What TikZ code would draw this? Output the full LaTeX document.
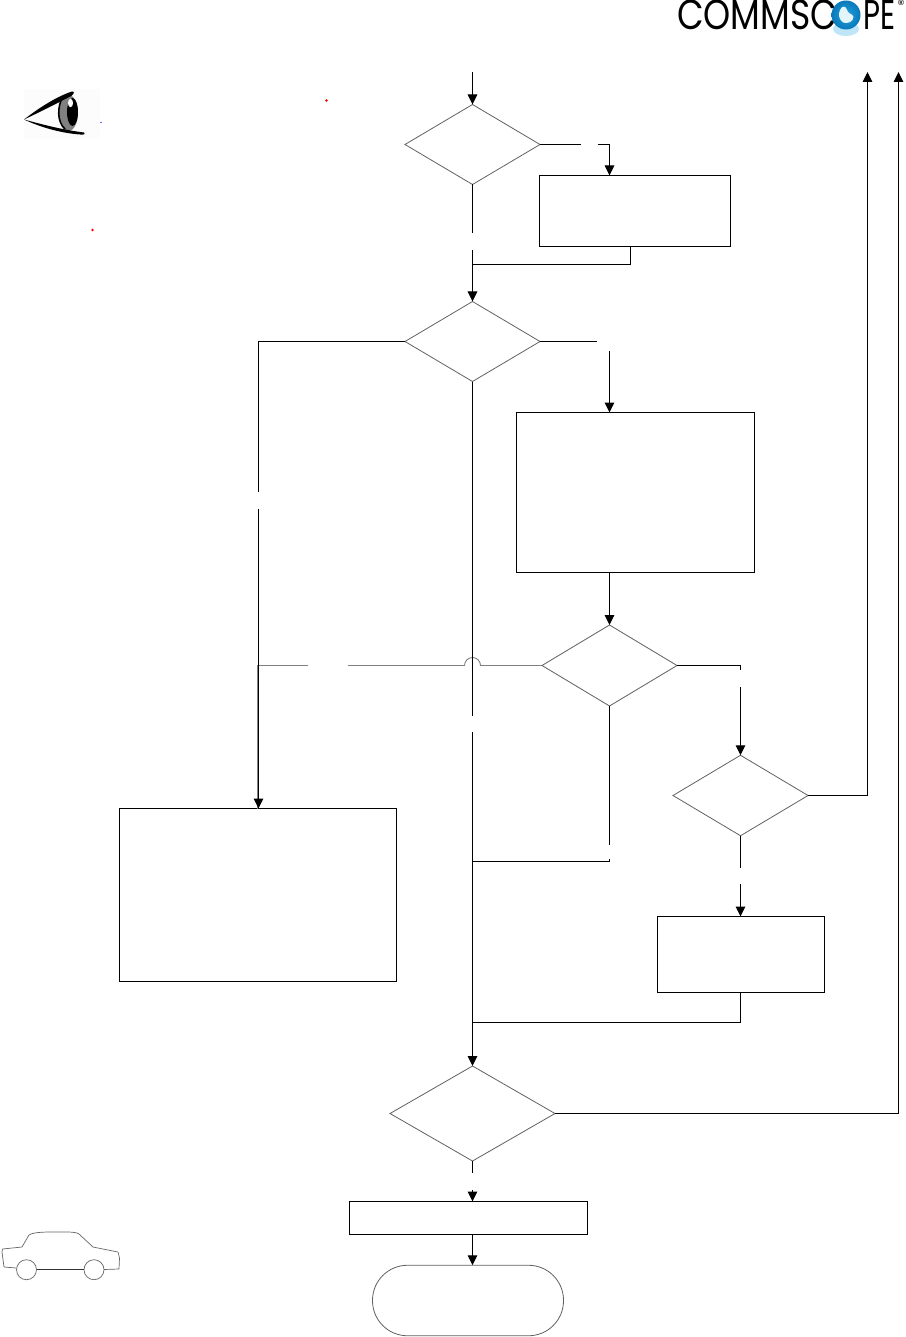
\documentclass[tikz,border=0pt]{standalone}
\usepackage{fontspec}
\usepackage{graphicx}
\setmainfont{Liberation Sans}
\newfontfamily\logofont{Poppins}
\usetikzlibrary{arrows.meta,shapes.geometric,calc}
\definecolor{ballblue}{HTML}{1FA3DC}
\definecolor{balldeep}{HTML}{0A78BA}
\definecolor{ballglow}{HTML}{BFE6F8}
\definecolor{ballswirl}{HTML}{E4F4FB}
\tikzset{
  conn/.style={line width=1pt,black},
  arr/.style={conn,-{Triangle[length=10pt,width=9.5pt]}},
  dmdnode/.style={shape=diamond,draw=black!62,line width=0.8pt,inner sep=0,outer sep=0,aspect=1.69},
  pbox/.style={shape=rectangle,draw=black,line width=1pt,inner sep=0,outer sep=0},
  termbox/.style={shape=rectangle,rounded corners=35pt,draw=black!62,line width=0.8pt,inner sep=0,outer sep=0},
  graylink/.style={line width=0.9pt,black!50},
  sketch/.style={line width=0.7pt,black!60,line join=round},
  ldot/.style={inner sep=0,minimum size=2.6pt,circle,fill=red},
}
\begin{document}
\begin{tikzpicture}[x=1pt,y=-1pt]
\useasboundingbox (0,0) rectangle (905,1337);
\fill[white] (0,0) rectangle (905,1337);
% decisions
\node[dmdnode,minimum width=135pt,minimum height=80pt] (da) at (472.5,144.5) {};
\node[dmdnode,minimum width=135pt,minimum height=80pt] (db) at (472.5,341.5) {};
\node[dmdnode,minimum width=135pt,minimum height=81pt] (dc) at (609.5,665.5) {};
\node[dmdnode,minimum width=135pt,minimum height=80.5pt] (dd) at (740.5,795.5) {};
\node[dmdnode,minimum width=165pt,minimum height=95pt] (de) at (472.5,1113.5) {};
% boxes
\node[pbox,minimum width=191pt,minimum height=71pt] (ba) at (635,211) {};
\node[pbox,minimum width=238pt,minimum height=160pt] (bb) at (635.5,492.5) {};
\node[pbox,minimum width=167pt,minimum height=76pt] (bc) at (741,954.5) {};
\node[pbox,minimum width=277pt,minimum height=173pt] (bd) at (258,895) {};
\node[pbox,minimum width=238pt,minimum height=33pt] (be) at (468.5,1218) {};
\node[termbox,minimum width=191pt,minimum height=70.5pt] (tm) at (468,1300.5) {};
% connectors
\coordinate (start) at (472.5,72);
\draw[arr] (start) -- (da.north);
\coordinate (a1) at (581,144.5); \coordinate (a2) at (598,144.5); \coordinate (a3) at (609.5,144.5);
\draw[conn] (da.east) -- (a1);
\draw[arr] (a2) -- (a3) -- (a3 |- ba.north);
\coordinate (a5) at (472.5,233.5); \coordinate (a6) at (472.5,250);
\draw[conn] (da.south) -- (a5);
\draw[arr] (a6) -- (db.north);
\coordinate (a7) at (630.5,246.5); \coordinate (a8) at (630.5,264.5); \coordinate (a9) at (472.5,264.5);
\draw[conn] (a7) -- (a8) -- (a9);
\coordinate (b1) at (597,341.5); \coordinate (b2) at (609.5,351);
\draw[conn] (db.east) -- (b1);
\draw[arr] (b2) -- (b2 |- bb.north);
\coordinate (l1) at (258.5,341.5); \coordinate (l2) at (258.5,492); \coordinate (l3) at (258.5,509);
\coordinate (m1) at (472.5,716); \coordinate (m2) at (472.5,732);
\coordinate (g2) at (480.5,665.5); \coordinate (g3) at (348,665.5); \coordinate (g4) at (308,665.5); \coordinate (g5) at (257.3,665.5);
\draw[graylink] (dc.west) -- (g2) arc[start angle=0,end angle=180,radius=8,y radius=-8] -- (g3);
\draw[graylink] (g4) -- (g5) -- (g5 |- bd.north);
\draw[conn] (db.west) -- (l1) -- (l2);
\draw[arr] (l3) -- (l3 |- bd.north);
\draw[conn] (db.south) -- (m1);
\draw[arr] (m2) -- (de.north);
\draw[arr] (bb.south -| dc.north) -- (dc.north);
\coordinate (c1) at (740.5,665.5); \coordinate (c2) at (740.5,669.5); \coordinate (c3) at (740.5,687);
\draw[conn] (dc.east) -- (c1) -- (c2);
\draw[arr] (c3) -- (dd.north);
\coordinate (c4) at (609.5,844.5); \coordinate (c5) at (609.5,859); \coordinate (c6) at (609.5,861.5); \coordinate (c7) at (472.5,861.5);
\draw[conn] (dc.south) -- (c4);
\draw[conn] (c5) -- (c6) -- (c7);
\coordinate (r1) at (867.5,795.5); \coordinate (r2) at (867.5,72);
\draw[arr] (dd.east) -- (r1) -- (r2);
\coordinate (r3) at (898.5,1113.5); \coordinate (r4) at (898.5,72);
\draw[arr] (de.east) -- (r3) -- (r4);
\coordinate (d1) at (740.5,867.5); \coordinate (d2) at (740.5,884);
\draw[conn] (dd.south) -- (d1);
\draw[arr] (d2) -- (d2 |- bc.north);
\coordinate (d4) at (740.5,1022.5); \coordinate (d6) at (472.5,1022.5);
\draw[conn] (d4 |- bc.south) -- (d4) -- (d6);
\coordinate (e1) at (472.5,1173); \coordinate (e2) at (472.5,1189.5);
\draw[conn] (de.south) -- (e1);
\draw[arr] (e2) -- (e2 |- be.north);
\coordinate (e4) at (472.5,1234.5);
\draw[arr] (e4) -- (e4 |- tm.north);
% dots
\node[ldot] (rd1) at (326.5,100.5) {};
\node[ldot] (rd2) at (92.5,230) {};
\node[inner sep=0,minimum size=1.2pt,fill=blue!60] (bd1) at (101,122.5) {};
% eye
\fill[black!1] (24,89) rectangle (100,139);
\fill[black!50] (68.5,113) ellipse[x radius=9.5,y radius=18];
\draw[black,line width=1.6pt] (63,96) .. controls (57,107) and (57,122) .. (65,129);
\fill[black] (72.5,112) ellipse[x radius=5.5,y radius=14];
\fill[white] (70.5,103) ellipse[x radius=2.5,y radius=4.2];
\fill[black] (24,119.5) .. controls (40,107) and (58,96) .. (72,91.5) .. controls (75,91.5) and (74,94) .. (72,95.5) .. controls (58,103) and (40,112) .. (24,119.5) -- cycle;
\fill[black] (24,119.5) .. controls (44,125) and (64,130) .. (84,132.5) .. controls (86,133.5) and (85,135) .. (80,134.5) .. controls (60,133) and (40,127) .. (24,119.5) -- cycle;
% car
\draw[sketch] (16,1268) -- (4,1267) -- (2,1252) -- (2.5,1249) -- (22,1247) -- (29,1235) .. controls (31,1233) and (40,1232) .. (50,1232) -- (68,1232) .. controls (74,1232) and (78,1233) .. (79,1234) -- (93,1247) -- (118,1252) -- (119.5,1258) -- (119,1269) -- (104,1269.5);
\draw[sketch] (26.5,1269.7) circle[radius=10];
\draw[sketch] (94,1269.7) circle[radius=10];
\draw[sketch,black!80] (36.5,1269.5) -- (84,1269.5);
% logo
\node[inner sep=0,anchor=north west] (lg1) at (677,0) {\resizebox*{160pt}{30pt}{\logofont COMMSC}};
\fill[ballglow] (846,29) ellipse[x radius=13,y radius=7];
\shade[inner color=ballblue,outer color=balldeep] (846,15) circle[radius=14.5];
\fill[ballswirl] (840,10) .. controls (842,5) and (846,6) .. (847,10) .. controls (848,14) and (853,14) .. (853.5,17) .. controls (853,22) and (848,24) .. (843,22.5) .. controls (839,20) and (838,14) .. (840,10) -- cycle;
\node[inner sep=0,anchor=north west] (lg2) at (863,0.5) {\resizebox*{32pt}{29pt}{\logofont PE}};
\node[inner sep=0,anchor=north west] (lg3) at (898,0) {\fontsize{8}{8}\selectfont\bfseries ®};
\end{tikzpicture}
\end{document}
